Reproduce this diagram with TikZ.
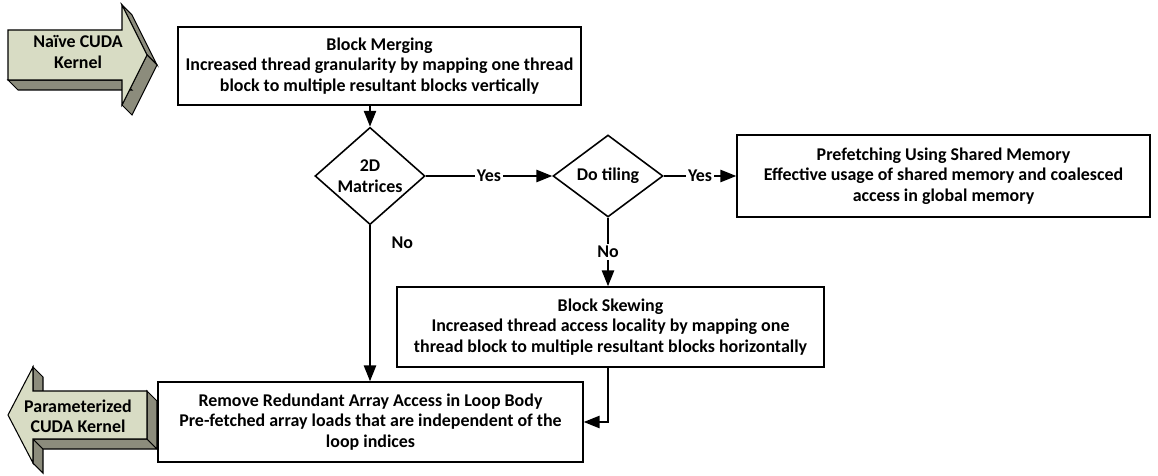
\documentclass[tikz,border=0pt]{standalone}
\usepackage{fontspec}
\setmainfont{Carlito}
\usepackage{tikz}
\usetikzlibrary{shapes.geometric, arrows.meta, positioning}

\begin{document}
\begin{tikzpicture}[
  x=0.02cm, y=-0.02cm,
  font=\fontsize{10.2}{11.6}\selectfont\bfseries,
  box/.style={draw, line width=0.9pt, align=center, inner sep=2pt},
  dec/.style={draw, diamond, line width=0.9pt, align=center, inner sep=0pt},
  flow/.style={-{Triangle[length=9pt, width=7pt]}, line width=0.9pt},
  lab/.style={fill=white, inner sep=1pt},
  front/.style={draw, line width=0.6pt, fill=bfront},
  side/.style={draw, line width=0.6pt, fill=bside}
]
\definecolor{bfront}{RGB}{216,220,196}
\definecolor{bside}{RGB}{140,140,124}
\useasboundingbox (0,0) rectangle (1158,476);

% input arrow
\fill[side] (122,5) -- (147,55) -- (157,65) -- (132,15) -- cycle;
\fill[side] (147,55) -- (122,105) -- (132,115) -- (157,65) -- cycle;
\fill[side] (122,80) -- (8,80) -- (18,90) -- (132,90) -- cycle;
\filldraw[front] (8,30) -- (122,30) -- (122,5) -- (147,55) -- (122,105)
  -- (122,80) -- (8,80) -- cycle;
\node[align=center] (kin) at (78,52) {Naïve CUDA\\Kernel};

% output arrow
\fill[side] (33,367) -- (33,391) -- (43,401) -- (43,377) -- cycle;
\fill[side] (33,439) -- (33,463) -- (43,473) -- (43,449) -- cycle;
\fill[side] (147,439) -- (33,439) -- (43,449) -- (157,449) -- cycle;
\fill[side] (147,391) -- (147,439) -- (157,449) -- (157,401) -- cycle;
\filldraw[front] (8,415) -- (33,367) -- (33,391) -- (147,391) -- (147,439)
  -- (33,439) -- (33,463) -- cycle;
\node[align=center] (kout) at (78,416) {Parameterized\\CUDA Kernel};

% steps
\node[box, minimum width=8.06cm, minimum height=1.56cm] (merge) at (379.5,66)
  {Block Merging\\Increased thread granularity by mapping one thread\\block to multiple resultant blocks vertically};
\node[dec, minimum width=2.2cm, minimum height=1.64cm] (dmat) at (370,176) {2D\\Matrices};
\node[dec, minimum width=2.2cm, minimum height=1.64cm] (tile) at (608,176) {Do tiling};
\node[box, minimum width=8.26cm, minimum height=1.64cm] (pref) at (943.5,176)
  {Prefetching Using Shared Memory\\Effective usage of shared memory and coalesced\\access in global memory};
\node[box, minimum width=8.54cm, minimum height=1.6cm] (skew) at (610.5,327)
  {Block Skewing\\Increased thread access locality by mapping one\\thread block to multiple resultant blocks horizontally};
\node[box, minimum width=8.5cm, minimum height=1.6cm] (remv) at (370.5,422)
  {Remove Redundant Array Access in Loop Body\\Pre-fetched array loads that are independent of the\\loop indices};

% connectors
\draw[flow] (dmat.north |- merge.south) -- (dmat.north);
\draw[flow] (dmat.east) -- node[lab] {Yes} (tile.west);
\draw[flow] (tile.east) -- node[lab] {Yes} (pref.west);
\draw[flow] (tile.south) -- node[lab] {No} (tile.south |- skew.north);
\draw[flow] (dmat.south) -- node[pos=0.11, right=0.3cm] {No} (dmat.south |- remv.north);
\draw[flow] (skew.south -| tile.south) |- (remv.east);
\end{tikzpicture}
\end{document}
